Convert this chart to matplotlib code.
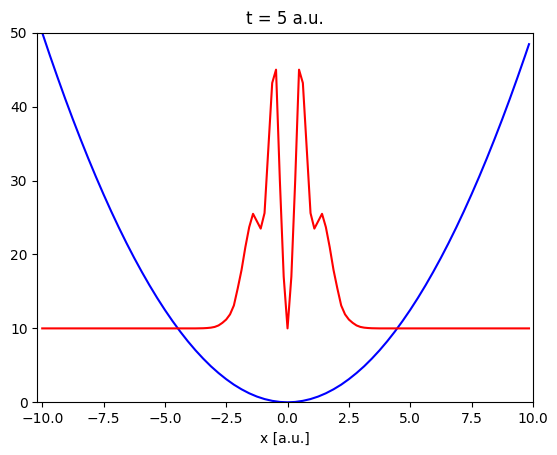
import numpy as np
import matplotlib
matplotlib.use("Agg")
import matplotlib.pyplot as plt

# potential V(x)
x_pot = [-10.0, -9.6875, -9.375, -9.0625, -8.75, -8.4375, -8.125, -7.8125,
         -7.5, -7.1875, -6.875, -6.5625, -6.25, -5.9375, -5.625, -5.3125,
         -5.0, -4.6875, -4.375, -4.0625, -3.75, -3.4375, -3.125, -2.8125,
         -2.5, -2.1875, -1.875, -1.5625, -1.25, -0.9375, -0.625, -0.3125,
         0.0, 0.3125, 0.625, 0.9375, 1.25, 1.5625, 1.875, 2.1875,
         2.5, 2.8125, 3.125, 3.4375, 3.75, 4.0625, 4.375, 4.6875,
         5.0, 5.3125, 5.625, 5.9375, 6.25, 6.5625, 6.875, 7.1875,
         7.5, 7.8125, 8.125, 8.4375, 8.75, 9.0625, 9.375, 9.6875, 9.84375]
v_pot = [50.0, 46.92, 43.95, 41.06, 38.28, 35.6, 33.01, 30.52,
         28.13, 25.83, 23.63, 21.53, 19.53, 17.63, 15.82, 14.11,
         12.5, 10.99, 9.57, 8.25, 7.03, 5.91, 4.88, 3.96,
         3.13, 2.39, 1.76, 1.22, 0.78, 0.44, 0.2, 0.05,
         0.0, 0.05, 0.2, 0.44, 0.78, 1.22, 1.76, 2.39,
         3.13, 3.96, 4.88, 5.91, 7.03, 8.25, 9.57, 10.99,
         12.5, 14.11, 15.82, 17.63, 19.53, 21.53, 23.63, 25.83,
         28.13, 30.52, 33.01, 35.6, 38.28, 41.06, 43.95, 46.92, 48.45]

# |psi|^2 shifted by the energy level (red curve)
x_dens = [-10.0, -3.75, -3.59375, -3.4375, -3.28125, -3.125, -2.96875, -2.8125,
          -2.65625, -2.5, -2.34375, -2.1875, -2.03125, -1.875, -1.71875, -1.5625,
          -1.40625, -1.25, -1.09375, -0.9375, -0.78125, -0.625, -0.46875, -0.3125,
          -0.15625, 0.0, 0.15625, 0.3125, 0.46875, 0.625, 0.78125, 0.9375,
          1.09375, 1.25, 1.40625, 1.5625, 1.71875, 1.875, 2.03125, 2.1875,
          2.34375, 2.5, 2.65625, 2.8125, 2.96875, 3.125, 3.28125, 3.4375,
          3.59375, 3.75, 9.84375]
y_dens = [10.0, 10.0, 10.01, 10.02, 10.05, 10.1, 10.2, 10.4,
          10.75, 11.2, 11.9, 13.1, 15.4, 17.9, 21.0, 23.7,
          25.5, 24.5, 23.5, 25.6, 34.4, 43.2, 45.0, 30.0,
          17.0, 10.0, 17.0, 30.0, 45.0, 43.2, 34.4, 25.6,
          23.5, 24.5, 25.5, 23.7, 21.0, 17.9, 15.4, 13.1,
          11.9, 11.2, 10.75, 10.4, 10.2, 10.1, 10.05, 10.02,
          10.01, 10.0, 10.0]

fig = plt.figure(figsize=(5.57, 4.55), dpi=100)
ax = fig.add_axes([0.067, 0.1158, 0.8905, 0.8123])

ax.plot(x_pot, v_pot, "b")
ax.plot(x_dens, y_dens, "r")

ax.set_xlim(-10.2, 10.02)
ax.set_ylim(0, 50)
ax.set_title("t = 5 a.u.")
ax.set_xlabel("x [a.u.]")

fig.savefig("out.png", dpi=100)
